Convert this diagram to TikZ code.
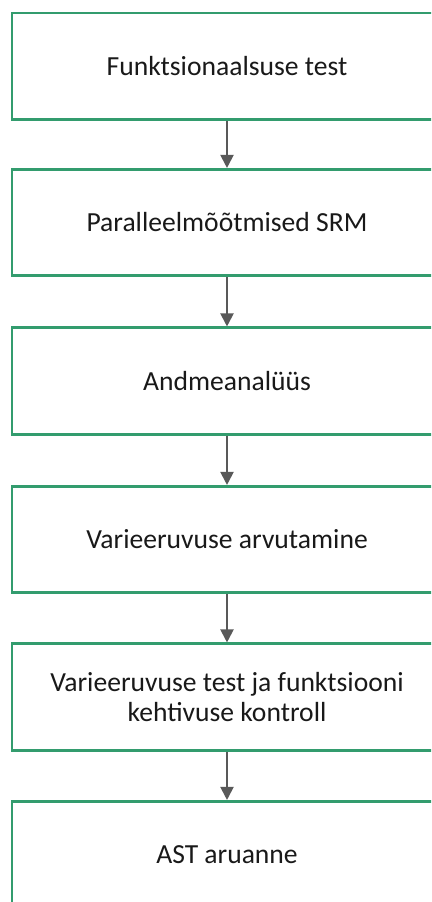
\documentclass[tikz,border=0pt]{standalone}
\usepackage{fontspec}
\setmainfont{Carlito}
\usepackage{tikz}
\usetikzlibrary{arrows.meta,positioning}
\definecolor{BoxGreen}{HTML}{339C6E}
\definecolor{FlowGray}{HTML}{595959}

\begin{document}
\begin{tikzpicture}[x=1pt,y=-1pt,
  stepbox/.style={draw=BoxGreen,line width=2.6pt,fill=white,minimum width=430pt,
    minimum height=106.5pt,align=center,text=black!90,
    font=\fontsize{27.6}{29.5}\selectfont},
  flow/.style={draw=FlowGray,line width=2pt,-{Triangle[length=13pt,width=13pt]}}]
  \clip (0,0) rectangle (431,902);
  \fill[white] (0,0) rectangle (431,902);
  \foreach \name/\txt/\y in {
    {func}/{Funktsionaalsuse test}/66.25,
    {srm}/{Paralleelmõõtmised SRM}/222.5,
    {anal}/{Andmeanalüüs}/381,
    {varc}/{Varieeruvuse arvutamine}/539.5,
    {vart}/{Varieeruvuse test ja funktsiooni\\kehtivuse kontroll}/697,
    {ast}/{AST aruanne}/854.5}
  {
    \node[stepbox] (\name) at (227,\y) {\txt};
  }
  \foreach \a/\b in {func/srm,srm/anal,anal/varc,varc/vart,vart/ast}
    \draw[flow] (\a) -- (\b);
\end{tikzpicture}
\end{document}
